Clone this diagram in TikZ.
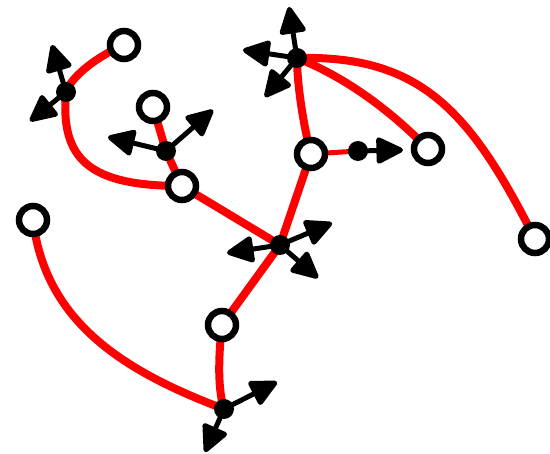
\documentclass[tikz,border=0pt]{standalone}
\usetikzlibrary{arrows.meta}
\begin{document}
\begin{tikzpicture}[x=1pt,y=-1pt,
  redline/.style={draw={rgb,255:red,255;green,0;blue,0},line width=8pt,line cap=round},
  thinred/.style={draw={rgb,255:red,255;green,0;blue,0},line width=5pt},
  vec/.style={draw=black,line width=5pt,-{Triangle[length=30pt 0 0,width=28pt 0 0,round]}},
  opencircle/.style={circle,draw=black,fill=white,line width=6.5pt,minimum size=28pt,inner sep=0pt},
  junction/.style={circle,fill=black,minimum size=20pt,inner sep=0pt}]
\useasboundingbox (0,0) rectangle (550,454);
% positions
\coordinate (pA) at (124,45);
\coordinate (pB) at (153,107);
\coordinate (pC) at (182,186);
\coordinate (pD) at (33,220);
\coordinate (pE) at (311,154);
\coordinate (pF) at (428,149);
\coordinate (pG) at (535,239);
\coordinate (pH) at (222,325);
\coordinate (pJ1) at (66,92);
\coordinate (pJ2) at (166,151);
\coordinate (pJ3) at (297,58);
\coordinate (pJ4) at (280,245);
\coordinate (pJ5) at (224,409);
\coordinate (pK) at (358,151);
% arrow tips
\coordinate (t1a) at (52,45);
\coordinate (t1b) at (30,121);
\coordinate (t2a) at (108,137);
\coordinate (t2b) at (213,110);
\coordinate (t3a) at (289,7);
\coordinate (t3b) at (243,50);
\coordinate (t3c) at (265,97);
\coordinate (t4a) at (227,253);
\coordinate (t4b) at (332,223);
\coordinate (t4c) at (318,278);
\coordinate (t5a) at (277,382);
\coordinate (t5b) at (205,452);
\coordinate (tK) at (403,150);
% red curves
\path[redline] (pA) .. controls (100,55) and (72,75) .. (pJ1)
               .. controls (60,160) and (90,186) .. (pC);
\path[redline] (pB) -- (pJ2) -- (pC);
\path[redline] (pC) -- (pJ4);
\path[redline] (pJ4) -- (pE);
\path[redline] (pJ4) -- (pH);
\path[redline] (pH) .. controls (218,360) and (218,390) .. (pJ5);
\path[redline] (pD) .. controls (45,320) and (120,370) .. (pJ5);
\path[redline] (pE) .. controls (302,120) and (297,80) .. (pJ3);
\path[redline] (pJ3) .. controls (340,75) and (385,105) .. (pF);
\path[redline] (pJ3) .. controls (420,55) and (470,110) .. (pG);
\path[thinred] (pE) -- (pK);
% arrows
\draw[vec] (pJ1) -- (t1a);
\draw[vec] (pJ1) -- (t1b);
\draw[vec] (pJ2) -- (t2a);
\draw[vec] (pJ2) -- (t2b);
\draw[vec] (pJ3) -- (t3a);
\draw[vec] (pJ3) -- (t3b);
\draw[vec] (pJ3) -- (t3c);
\draw[vec] (pJ4) -- (t4a);
\draw[vec] (pJ4) -- (t4b);
\draw[vec] (pJ4) -- (t4c);
\draw[vec] (pJ5) -- (t5a);
\draw[vec] (pJ5) -- (t5b);
\draw[vec] (pK) -- (tK);
% junction dots
\node[junction] (J1) at (pJ1) {};
\node[junction] (J2) at (pJ2) {};
\node[junction] (J3) at (pJ3) {};
\node[junction] (J4) at (pJ4) {};
\node[junction] (J5) at (pJ5) {};
\node[junction] (K) at (pK) {};
% open circles
\node[opencircle] (A) at (pA) {};
\node[opencircle] (B) at (pB) {};
\node[opencircle] (C) at (pC) {};
\node[opencircle] (D) at (pD) {};
\node[opencircle] (E) at (pE) {};
\node[opencircle] (F) at (pF) {};
\node[opencircle] (G) at (pG) {};
\node[opencircle] (H) at (pH) {};
\end{tikzpicture}
\end{document}
